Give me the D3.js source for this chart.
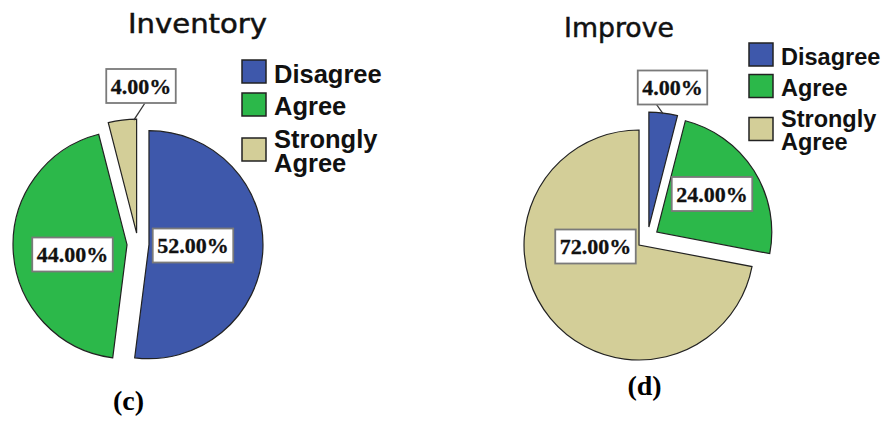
<!DOCTYPE html>
<html>
<head>
<meta charset="utf-8">
<script src="https://cdn.jsdelivr.net/npm/d3@7"></script>
<style>
  html, body { margin: 0; padding: 0; background: #ffffff; }
  svg { display: block; }
</style>
</head>
<body>
<svg id="chart" width="882" height="421"></svg>
<script>
// ---------------- DATA ----------------
const categories = ["Disagree", "Agree", "Strongly Agree"];
const legendLines = [["Disagree"], ["Agree"], ["Strongly", "Agree"]];
const inventoryValues = [52, 44, 4];
const improveValues = [4, 24, 72];
const chartTitles = ["Inventory", "Improve"];
const panelTags = ["(c)", "(d)"];

// ---------------- STYLE / LAYOUT ----------------
const colors = ["#3e58ab", "#2cb84a", "#d3ce98"];
const svg = d3.select("#chart");

const panels = [
  {
    values: inventoryValues, title: chartTitles[0], tag: panelTags[0],
    cx: 138, cy: 244, r: 114, explode: 11,
    titleX: 197.5, titleY: 33, titleLen: 139,
    tagX: 128.5, tagY: 410,
    legend: { x: 242, y: 60, s: 1.0, font: 25.5 },
    labels: [[55, 1.5], [-65.5, 10.5], [3, -158]],
    leader: [null, null, { t: 0.9, sx: 4 }]
  },
  {
    values: improveValues, title: chartTitles[1], tag: panelTags[1],
    cx: 647.5, cy: 238, r: 115, explode: 11,
    titleX: 619, titleY: 37, titleLen: 110,
    tagX: 644.5, tagY: 395,
    legend: { x: 749, y: 43, s: 0.955, font: 23.5 },
    labels: [[25, -150.5], [64.5, -44], [-52, 8.5]],
    leader: [{ t: 0.5, sx: -16 }, null, null]
  }
];

const pie = d3.pie().sort(null).value(d => d).startAngle(0).endAngle(2 * Math.PI);

panels.forEach(p => {
  const g = svg.append("g");
  const arcs = pie(p.values);
  const arc = d3.arc().innerRadius(0).outerRadius(p.r);

  // slices (each exploded along its mid-angle)
  const offs = arcs.map(a => {
    const m = (a.startAngle + a.endAngle) / 2;
    return [p.cx + Math.sin(m) * p.explode, p.cy - Math.cos(m) * p.explode];
  });

  g.selectAll("path.slice").data(arcs).join("path")
    .attr("class", "slice")
    .attr("transform", (d, i) => `translate(${offs[i][0]},${offs[i][1]})`)
    .attr("d", arc)
    .attr("fill", (d, i) => colors[i])
    .attr("stroke", "#222")
    .attr("stroke-width", 1.2)
    .attr("stroke-linejoin", "miter");

  // labels
  arcs.forEach((a, i) => {
    const lx = p.cx + p.labels[i][0];
    const ly = p.cy + p.labels[i][1];
    const txt = d3.format(".2f")(p.values[i]) + "%";
    const lg = g.append("g");
    const t = lg.append("text")
      .attr("x", lx).attr("y", ly + 7.5)
      .attr("text-anchor", "middle")
      .attr("font-family", "'Liberation Serif', 'Times New Roman', serif")
      .attr("font-weight", "bold")
      .attr("font-size", 22)
      .attr("fill", "#111")
      .attr("stroke", "#111").attr("stroke-width", 0.3)
      .text(txt);
    const w = t.node().getComputedTextLength() + 9;
    const h = 34;
    const lead = p.leader[i];
    if (lead) {
      const th = a.startAngle + lead.t * (a.endAngle - a.startAngle);
      const tx = offs[i][0] + Math.sin(th) * (p.r - 1);
      const ty = offs[i][1] - Math.cos(th) * (p.r - 1);
      lg.insert("line", "text")
        .attr("x1", lx + lead.sx).attr("y1", ly + h / 2)
        .attr("x2", tx).attr("y2", ty)
        .attr("stroke", "#333").attr("stroke-width", 1.3);
    }
    lg.insert("rect", "text")
      .attr("x", lx - w / 2).attr("y", ly - h / 2)
      .attr("width", w).attr("height", h)
      .attr("fill", "#fff")
      .attr("stroke", "#7a7a7a")
      .attr("stroke-width", 1.8);
  });

  // title
  g.append("text")
    .attr("x", p.titleX).attr("y", p.titleY)
    .attr("text-anchor", "middle")
    .attr("font-family", "'DejaVu Sans', Verdana, sans-serif")
    .attr("font-size", 27)
    .attr("fill", "#111")
    .attr("stroke", "#111").attr("stroke-width", 0.5)
    .attr("textLength", p.titleLen)
    .attr("lengthAdjust", "spacingAndGlyphs")
    .text(p.title);

  // legend
  const L = p.legend;
  const rowTops = [0, 33, 78];
  const baselines = [23, 55, 88];
  const lineGap = 24;
  categories.forEach((c, i) => {
    g.append("rect")
      .attr("x", L.x).attr("y", L.y + rowTops[i] * L.s)
      .attr("width", 24).attr("height", 23)
      .attr("fill", colors[i])
      .attr("stroke", "#222").attr("stroke-width", 1.5);
    const t = g.append("text")
      .attr("font-family", "'Liberation Sans', Arial, sans-serif")
      .attr("font-weight", "bold")
      .attr("font-size", L.font)
      .attr("fill", "#111");
    legendLines[i].forEach((ln, j) => {
      t.append("tspan")
        .attr("x", L.x + 32)
        .attr("y", L.y + (baselines[i] + j * lineGap) * L.s)
        .text(ln);
    });
  });

  // panel tag
  g.append("text")
    .attr("x", p.tagX).attr("y", p.tagY)
    .attr("text-anchor", "middle")
    .attr("font-family", "'Liberation Serif', 'Times New Roman', serif")
    .attr("font-weight", "bold")
    .attr("font-size", 28)
    .attr("fill", "#000")
    .text(p.tag);
});
</script>
</body>
</html>
